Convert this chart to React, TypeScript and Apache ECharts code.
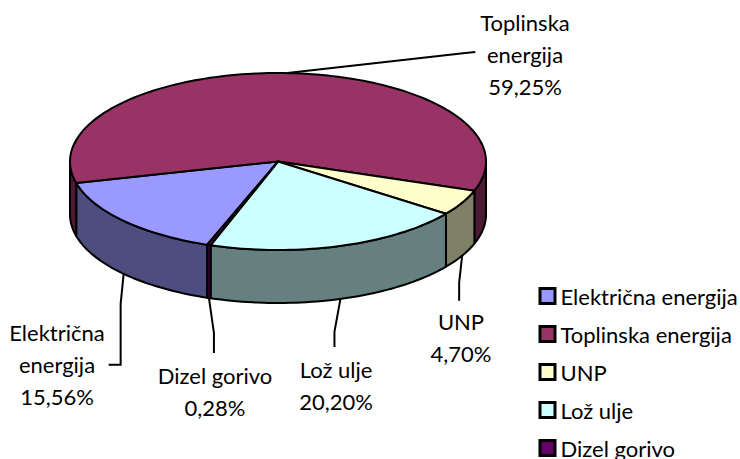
import React, { useEffect, useRef } from "react";
import * as echarts from "echarts";

const names = ["Električna energija", "Toplinska energija", "UNP", "Lož ulje", "Dizel gorivo"];
const labelLines = ["Električna\nenergija\n15,56%", "Toplinska\nenergija\n59,25%", "UNP\n4,70%", "Lož ulje\n20,20%", "Dizel gorivo\n0,28%"];
const shares = [15.56, 59.25, 4.7, 20.2, 0.28];
const topColors = ["#9999FF", "#993366", "#FFFFCC", "#CCFFFF", "#660066"];
const wallColors = ["#4D4D80", "#4D1A33", "#808066", "#668080", "#330033"];

// Layout of the 3D pie (pixels)
const CX = 278, CY = 161.5, RX = 208, RY = 88.5, DEPTH = 53, START = 199.9;
const FONT = 'Lato';
const FS = 22;
// leader elbows (dx/dy relative to the slice anchor) and label centres
const leaders: number[][][] = [
  [[-3, 30], [-3, 91], [-15, 91]],
  [[178, -20], [188, -21]],
  [[-3, 27], [-3, 45]],
  [[-6, 33], [-6, 48]],
  [[5, 35], [5, 55]],
];
const labelPos = [[57, 316], [525, 6], [461, 305], [336, 353], [215, 359]];
const onWall = [true, false, true, true, true];

function pt(deg: number, dy = 0) {
  const t = (deg * Math.PI) / 180;
  return [CX + RX * Math.sin(t), CY - RY * Math.cos(t) + dy];
}

function arc(a: number, b: number, dy = 0) {
  const n = Math.max(2, Math.ceil(Math.abs(b - a) / 1.5));
  const out: number[][] = [];
  for (let i = 0; i <= n; i++) out.push(pt(a + ((b - a) * i) / n, dy));
  return out;
}

function makeRender(index: number) {
  return (_params: any, api: any) => {
    const value = api.value(0);
    const total = shares.reduce((s, v) => s + v, 0);
    const before = shares.slice(0, index).reduce((s, v) => s + v, 0);
    const a0 = START + (before / total) * 360;
    const a1 = a0 + (value / total) * 360;
    const children: any[] = [];
    const line = { stroke: "#000", lineWidth: 2, lineJoin: "round" };
    // front wall: the part of the slice between 90° and 270° (mod 360)
    for (const k of [0, 360]) {
      const w0 = Math.max(a0, 90 + k);
      const w1 = Math.min(a1, 270 + k);
      if (w1 > w0) {
        children.push({
          type: "polygon",
          shape: { points: [...arc(w0, w1), ...arc(w1, w0, DEPTH)] },
          style: { fill: wallColors[index], ...line },
        });
      }
    }
    children.push({
      type: "polygon",
      shape: { points: [[CX, CY], ...arc(a0, a1)] },
      style: { fill: topColors[index], ...line },
    });
    const anchor = pt((a0 + a1) / 2, onWall[index] ? DEPTH : 0);
    const pts = [anchor, ...leaders[index].map(([dx, dy]) => [anchor[0] + dx, anchor[1] + dy])];
    children.push({
      type: "polyline",
      shape: { points: pts },
      style: { fill: "none", stroke: "#000", lineWidth: 2 },
    });
    children.push({
      type: "text",
      style: {
        text: labelLines[index],
        x: labelPos[index][0],
        y: labelPos[index][1],
        align: "center",
        verticalAlign: "top",
        fill: "#000",
        fontFamily: FONT,
        fontSize: FS,
        lineHeight: 32,
      },
    });
    return { type: "group", children };
  };
}

export default function App() {
  const ref = useRef<HTMLDivElement>(null);
  useEffect(() => {
    const chart = echarts.init(ref.current!, undefined, { renderer: "svg" });
    chart.setOption({
      animation: false,
      backgroundColor: "#fff",
      legend: {
        orient: "vertical",
        left: 538.5,
        top: 285,
        height: 300,
        padding: 0,
        itemWidth: 15,
        itemHeight: 15,
        itemGap: 16,
        textStyle: { fontFamily: FONT, fontSize: FS, color: "#000", padding: [0, 0, 0, 0.5] },
        data: names.map((name, i) => ({
          name,
          icon: "rect",
          itemStyle: { color: topColors[i], borderColor: "#000", borderWidth: 3 },
        })),
      },
      series: names.map((name, i) => ({
        type: "custom",
        name,
        coordinateSystem: "none",
        silent: true,
        itemStyle: { color: topColors[i] },
        renderItem: makeRender(i),
        data: [[shares[i]]],
      })),
    });
    return () => chart.dispose();
  }, []);
  return <div ref={ref} style={{ position: "fixed", left: 0, top: 0, width: 740, height: 459 }} />;
}
